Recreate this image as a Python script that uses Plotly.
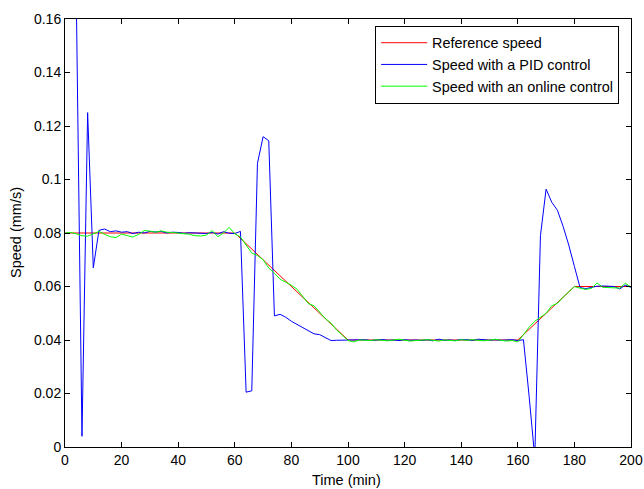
import plotly.graph_objects as go

# Sampling times (min)
time = list(range(0, 201, 2))

# Reference speed breakpoints
ref_time = [0, 60, 100, 160, 180, 200]
ref_speed = [0.08, 0.08, 0.04, 0.04, 0.06, 0.06]

# Speed with a PID control (t = 0, 2, ..., 200)
pid_speed = [
    None, 0.33, 0.167, 0.004, 0.125, 0.067, 0.081, 0.0815, 0.0805, 0.0808,
    0.0803, 0.0805, 0.0798, 0.0803, 0.0800, 0.0806, 0.0804, 0.0806, 0.0800, 0.0803,
    0.0802, 0.0799, 0.0801, 0.0800, 0.0801, 0.0798, 0.0802, 0.0796, 0.0805, 0.0799,
    0.0798, 0.0806, 0.0205, 0.021, 0.106, 0.116, 0.1145, 0.049, 0.0496, 0.0485,
    0.047, 0.0458, 0.0448, 0.0435, 0.0423, 0.042, 0.041, 0.0398, 0.0399, 0.0399,
    0.0400, 0.0401, 0.0399, 0.0401, 0.0398, 0.0400, 0.0402, 0.0399, 0.0400, 0.0398,
    0.0401, 0.0399, 0.0400, 0.0398, 0.0401, 0.0397, 0.0403, 0.0399, 0.0400, 0.0398,
    0.0402, 0.0401, 0.0398, 0.0403, 0.0400, 0.0399, 0.0401, 0.0399, 0.0400, 0.0401,
    0.0398, 0.0401, 0.019, -0.004, 0.079, 0.0964, 0.0915, 0.0885, 0.0825, 0.0755,
    0.0675, 0.0596, 0.0592, 0.0597, 0.0601, 0.0602, 0.0601, 0.0600, 0.0591, 0.0605,
    0.0597,
]

# Speed with an online control (t = 0, 2, ..., 200)
online_speed = [
    0.0800, 0.0802, 0.0797, 0.0790, 0.0788, 0.0797, 0.0806, 0.0795, 0.0786, 0.0783,
    0.0796, 0.0790, 0.0785, 0.0795, 0.0809, 0.0807, 0.0803, 0.0808, 0.0803, 0.0802,
    0.0800, 0.0798, 0.0795, 0.0790, 0.0789, 0.0792, 0.0809, 0.0786, 0.0800, 0.0821,
    0.0797, 0.0785, 0.0755, 0.0725, 0.0716, 0.0700, 0.0669, 0.0650, 0.0627, 0.0617,
    0.0605, 0.0590, 0.0565, 0.0536, 0.0528, 0.0505, 0.0480, 0.0463, 0.0437, 0.0418,
    0.0398, 0.0393, 0.0400, 0.0399, 0.0398, 0.0401, 0.0398, 0.0397, 0.0400, 0.0403,
    0.0399, 0.0396, 0.0398, 0.0400, 0.0401, 0.0399, 0.0396, 0.0400, 0.0398, 0.0397,
    0.0401, 0.0399, 0.0401, 0.0398, 0.0397, 0.0399, 0.0403, 0.0399, 0.0396, 0.0398,
    0.0393, 0.0420, 0.0448, 0.0470, 0.0485, 0.0500, 0.0528, 0.0537, 0.0560, 0.0580,
    0.0600, 0.0594, 0.0589, 0.0593, 0.0613, 0.0597, 0.0597, 0.0595, 0.0594, 0.0612,
    0.0598,
]

x_ticks = [0, 20, 40, 60, 80, 100, 120, 140, 160, 180, 200]
y_ticks = [0, 0.02, 0.04, 0.06, 0.08, 0.1, 0.12, 0.14, 0.16]
y_tick_text = ["0", "0.02", "0.04", "0.06", "0.08", "0.1", "0.12", "0.14", "0.16"]

FONT = "Liberation Sans, Arial, sans-serif"

fig = go.Figure()
fig.add_trace(go.Scatter(x=ref_time, y=ref_speed, mode="lines", name="Reference speed",
                         line=dict(color="#ff0000", width=1)))
fig.add_trace(go.Scatter(x=time, y=pid_speed, mode="lines", name="Speed with a PID control",
                         line=dict(color="#0000ff", width=1), connectgaps=False))
fig.add_trace(go.Scatter(x=time, y=online_speed, mode="lines", name="Speed with an online control",
                         line=dict(color="#00ff00", width=1)))

axis_common = dict(
    showline=True, linecolor="black", linewidth=1, mirror="ticks",
    ticks="inside", ticklen=5, tickcolor="black", tickwidth=1,
    showgrid=False, zeroline=False, automargin=False,
    tickfont=dict(family=FONT, size=14, color="black"),
)

fig.update_layout(
    width=644, height=489,
    margin=dict(l=65, r=13, t=19, b=42),
    paper_bgcolor="white", plot_bgcolor="white",
    font=dict(family=FONT, size=14, color="black"),
    xaxis=dict(range=[0, 200], tickvals=x_ticks, **axis_common),
    yaxis=dict(range=[0, 0.16], tickvals=y_ticks, ticktext=y_tick_text, **axis_common),
    legend=dict(x=0.979, y=0.984, xanchor="right", yanchor="top",
                bordercolor="black", borderwidth=1, bgcolor="white",
                font=dict(family=FONT, size=14.4, color="black"), tracegroupgap=0,
                itemwidth=46),
    showlegend=True,
    annotations=[
        dict(text="Time (min)", xref="paper", yref="paper", x=0.497, y=0,
             xanchor="center", yanchor="middle", yshift=-33, showarrow=False,
             font=dict(family=FONT, size=14.5, color="black")),
        dict(text="Speed (mm/s)", xref="paper", yref="paper", x=0, y=0.5,
             xanchor="center", yanchor="middle", xshift=-49, textangle=-90, showarrow=False,
             font=dict(family=FONT, size=14.5, color="black")),
    ],
)

fig.write_html("out.html")
